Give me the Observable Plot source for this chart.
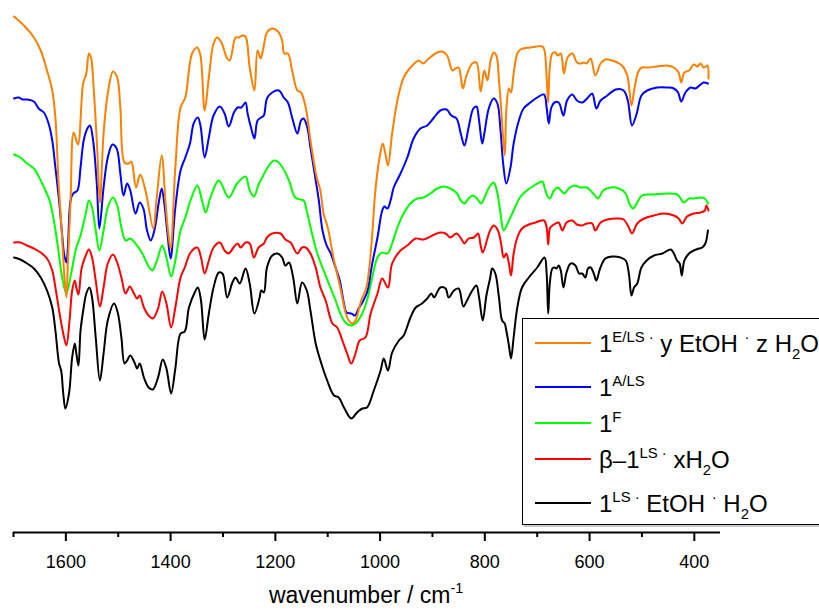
<!DOCTYPE html>
<html>
<head>
<meta charset="utf-8">
<script src="https://cdn.jsdelivr.net/npm/d3@7"></script>
<script src="https://cdn.jsdelivr.net/npm/@observablehq/plot@0.6"></script>
<style>
  html, body { margin: 0; padding: 0; background: #fff; }
  #chart { width: 819px; height: 610px; overflow: hidden; }
  #chart svg text { white-space: pre; }
</style>
</head>
<body>
<div id="chart"></div>
<script>
// FT-IR spectra: wavenumber (cm^-1) vs. transmittance (arbitrary units, stacked with offsets)

// 1^{E/LS} · y EtOH · z H2O
const spectrumELS = [[1699,516],[1680,507],[1661,495],[1648,482],[1636,462],[1626,442],[1620,415],[1614,350],[1608,302],[1603,257],[1599,235],[1596,272],[1591,332],[1585,400],[1577,388],[1567,449],[1561,459],[1556,479],[1552,475],[1547,445],[1540,382],[1535,330],[1528,399],[1520,439],[1510,461],[1502,455],[1496,425],[1488,370],[1480,369],[1475,371],[1466,345],[1458,358],[1448,342],[1433,304],[1427,332],[1417,377],[1410,332],[1405,302],[1400,284],[1391,365],[1381,425],[1372,435],[1359,479],[1349,485],[1343,477],[1335,422],[1327,455],[1318,489],[1311,495],[1303,490],[1292,474],[1287,472],[1276,495],[1270,495],[1263,497],[1257,496],[1249,465],[1240,442],[1234,482],[1228,474],[1223,484],[1216,500],[1206,504],[1195,501],[1187,492],[1183,479],[1176,479],[1168,462],[1158,442],[1151,440],[1142,425],[1133,392],[1121,355],[1114,342],[1108,319],[1100,305],[1088,272],[1076,245],[1066,220],[1060,212],[1053,209],[1047,212],[1042,220],[1036,232],[1026,245],[1017,285],[1009,342],[1002,372],[995,389],[990,379],[985,367],[977,399],[967,432],[955,455],[942,465],[926,472],[918,469],[907,474],[891,480],[881,481],[872,477],[862,462],[856,464],[850,465],[842,444],[835,457],[824,469],[816,470],[808,441],[801,462],[795,452],[789,472],[783,480],[778,477],[773,452],[769,425],[762,377],[759,422],[754,444],[750,440],[745,459],[738,479],[732,483],[713,485],[690,486],[686,482],[682,455],[679,430],[676,465],[671,479],[665,480],[661,477],[655,479],[649,459],[642,475],[633,479],[624,470],[617,469],[611,470],[606,469],[598,474],[589,457],[579,469],[570,473],[557,472],[547,470],[538,467],[528,457],[520,427],[514,445],[506,462],[500,465],[490,465],[471,466],[452,467],[439,465],[430,460],[425,450],[419,460],[410,462],[401,468],[394,466],[388,469],[382,465],[375,467],[373,454]];

// 1^{A/LS}
const spectrumALS = [[1699,434],[1690,435],[1683,433],[1674,433],[1661,431],[1652,424],[1642,420],[1633,409],[1626,392],[1620,365],[1613,332],[1607,297],[1603,277],[1599,270],[1596,287],[1591,332],[1586,339],[1578,342],[1572,365],[1566,392],[1559,404],[1554,407],[1548,392],[1541,349],[1536,304],[1528,345],[1520,375],[1511,388],[1503,384],[1496,359],[1490,337],[1483,349],[1477,342],[1467,319],[1459,330],[1452,324],[1445,302],[1438,292],[1431,302],[1422,332],[1417,344],[1412,329],[1406,299],[1400,274],[1391,325],[1381,362],[1372,375],[1363,389],[1356,409],[1348,415],[1343,407],[1335,375],[1327,395],[1318,417],[1306,426],[1297,419],[1289,406],[1279,420],[1272,425],[1265,425],[1257,430],[1253,419],[1246,404],[1240,394],[1234,412],[1227,415],[1222,417],[1216,434],[1206,440],[1193,442],[1184,435],[1176,430],[1168,415],[1158,399],[1151,412],[1146,414],[1139,405],[1133,385],[1125,359],[1117,332],[1110,302],[1102,287],[1095,280],[1085,265],[1077,252],[1069,229],[1064,220],[1055,219],[1048,217],[1041,224],[1034,230],[1025,240],[1015,269],[1005,295],[996,322],[992,326],[986,324],[980,332],[974,345],[961,359],[948,375],[936,394],[923,404],[910,407],[897,415],[885,422],[873,423],[864,417],[854,414],[846,399],[839,387],[831,405],[822,424],[816,426],[811,412],[805,389],[801,399],[792,425],[783,434],[776,429],[770,402],[765,369],[759,349],[751,365],[745,389],[735,412],[726,424],[713,430],[700,435],[687,438],[682,425],[678,409],[673,425],[667,430],[659,430],[650,417],[643,432],[633,438],[624,432],[614,430],[603,435],[595,439],[587,424],[579,432],[566,437],[550,443],[535,442],[527,432],[519,407],[510,419],[501,437],[490,442],[471,445],[452,445],[439,444],[431,440],[425,431],[417,440],[407,445],[398,444],[388,448],[382,450],[374,449]];

// 1^{F}
const spectrumF = [[1699,378],[1687,375],[1674,369],[1661,364],[1648,352],[1639,342],[1631,332],[1623,312],[1615,285],[1607,255],[1599,239],[1590,259],[1580,285],[1572,297],[1562,319],[1556,332],[1550,325],[1543,302],[1536,282],[1528,302],[1520,325],[1510,335],[1502,327],[1494,305],[1486,292],[1477,294],[1467,289],[1454,279],[1443,267],[1435,262],[1426,272],[1416,287],[1408,275],[1399,256],[1391,272],[1381,302],[1372,315],[1362,332],[1349,347],[1340,332],[1333,320],[1324,335],[1308,352],[1289,335],[1273,349],[1257,356],[1249,342],[1241,336],[1232,348],[1225,355],[1216,364],[1203,372],[1196,371],[1185,364],[1174,352],[1162,335],[1152,333],[1146,332],[1139,319],[1130,299],[1120,279],[1110,265],[1098,249],[1085,232],[1076,219],[1066,210],[1056,207],[1047,209],[1036,217],[1025,232],[1015,255],[1005,275],[996,280],[986,279],[977,289],[967,305],[955,319],[942,329],[929,334],[917,335],[904,339],[891,344],[878,346],[866,344],[853,339],[846,332],[839,329],[831,334],[823,337],[815,334],[807,329],[799,337],[792,345],[783,350],[776,339],[770,319],[764,302],[754,312],[745,322],[733,335],[722,341],[706,347],[690,351],[686,345],[681,337],[676,334],[668,342],[661,345],[648,339],[640,344],[629,347],[617,345],[605,345],[593,339],[584,334],[574,342],[560,345],[544,344],[531,339],[524,329],[517,324],[509,330],[500,337],[477,338],[452,339],[433,338],[426,334],[420,330],[410,334],[401,334],[388,335],[380,334],[374,329]];

// β-1^{LS} · x H2O
const spectrumBetaLS = [[1699,290],[1687,290],[1674,287],[1661,284],[1648,280],[1636,274],[1626,262],[1620,245],[1612,219],[1605,199],[1599,187],[1593,212],[1588,242],[1583,252],[1580,245],[1576,238],[1570,264],[1562,277],[1556,283],[1550,275],[1543,252],[1535,226],[1528,245],[1520,269],[1510,278],[1502,270],[1494,255],[1486,239],[1478,246],[1470,239],[1464,234],[1459,237],[1451,225],[1442,217],[1434,214],[1424,224],[1416,241],[1408,229],[1399,205],[1391,225],[1381,255],[1373,265],[1362,280],[1349,285],[1342,275],[1335,259],[1327,272],[1318,285],[1306,290],[1297,282],[1289,279],[1280,285],[1272,289],[1266,285],[1257,290],[1249,289],[1241,275],[1232,285],[1222,289],[1216,295],[1206,299],[1190,299],[1181,293],[1171,290],[1158,279],[1149,285],[1142,285],[1133,279],[1123,265],[1114,245],[1104,232],[1091,209],[1082,205],[1072,192],[1063,179],[1055,169],[1047,179],[1039,192],[1028,195],[1018,219],[1005,239],[996,254],[985,245],[977,269],[961,282],[948,287],[932,294],[917,293],[900,297],[885,300],[875,299],[866,295],[854,299],[843,292],[839,289],[831,294],[821,295],[813,299],[808,287],[804,280],[795,294],[790,302],[783,307],[775,302],[769,289],[764,275],[759,279],[754,269],[750,257],[745,279],[738,295],[729,304],[716,308],[703,310],[687,312],[682,305],[679,288],[675,305],[665,309],[659,310],[652,302],[644,310],[633,312],[624,308],[614,307],[605,309],[595,309],[589,302],[579,310],[566,313],[547,314],[535,313],[525,305],[519,299],[509,309],[496,314],[477,317],[458,319],[439,317],[430,314],[423,309],[414,316],[401,319],[388,320],[380,322],[377,327],[373,322]];

// 1^{LS} · EtOH · H2O
const spectrumLS = [[1699,275],[1687,273],[1674,269],[1661,264],[1648,255],[1636,242],[1626,225],[1620,202],[1613,169],[1609,162],[1605,139],[1601,124],[1594,139],[1588,175],[1583,189],[1580,179],[1576,167],[1572,202],[1566,225],[1561,239],[1555,245],[1550,235],[1543,195],[1535,152],[1528,179],[1520,212],[1508,229],[1501,220],[1494,195],[1488,169],[1483,172],[1477,177],[1469,170],[1464,164],[1459,169],[1451,155],[1442,145],[1434,143],[1424,155],[1415,173],[1408,164],[1399,139],[1391,164],[1381,199],[1373,201],[1365,225],[1354,240],[1348,245],[1342,232],[1335,193],[1327,219],[1318,245],[1308,260],[1301,259],[1292,235],[1282,250],[1276,255],[1268,249],[1257,264],[1249,249],[1240,219],[1230,235],[1227,242],[1222,240],[1216,265],[1206,277],[1196,279],[1187,275],[1181,267],[1174,270],[1166,255],[1158,229],[1149,250],[1140,242],[1133,222],[1123,189],[1114,172],[1101,152],[1088,137],[1079,135],[1069,125],[1055,114],[1044,120],[1034,124],[1025,125],[1012,142],[999,162],[993,174],[985,162],[977,180],[964,192],[955,197],[942,215],[932,225],[920,229],[910,234],[902,239],[897,235],[885,245],[875,244],[869,235],[859,242],[850,244],[841,226],[834,232],[824,242],[816,247],[811,235],[804,212],[797,237],[790,254],[786,264],[780,259],[773,235],[767,212],[762,209],[759,202],[754,187],[750,174],[745,195],[738,225],[729,245],[716,255],[700,265],[686,275],[682,259],[679,219],[676,249],[671,264],[667,265],[663,264],[659,267],[655,262],[650,245],[644,260],[636,269],[627,267],[620,259],[614,259],[608,255],[603,264],[598,265],[592,259],[587,252],[580,264],[570,274],[557,276],[541,275],[531,272],[525,259],[520,237],[515,245],[509,249],[501,265],[491,272],[477,277],[461,279],[445,283],[439,279],[433,272],[428,269],[424,257],[419,272],[410,279],[401,282],[391,284],[385,285],[379,289],[374,302]];

// Axis ticks (cm^-1)
const majorTicks = [1600, 1400, 1200, 1000, 800, 600, 400];
const minorTicks = [1700, 1500, 1300, 1100, 900, 700, 500];

// Legend entries: rich-text pieces (sup = superscript, sub = subscript)
const legendLabels = [
  [{t: "1"}, {t: "E/LS ·", sup: true}, {t: " y EtOH "}, {t: "·", sup: true}, {t: " z H"}, {t: "2", sub: true}, {t: "O"}],
  [{t: "1"}, {t: "A/LS", sup: true}],
  [{t: "1"}, {t: "F", sup: true}],
  [{t: "β–1"}, {t: "LS ·", sup: true}, {t: " xH"}, {t: "2", sub: true}, {t: "O"}],
  [{t: "1"}, {t: "LS ·", sup: true}, {t: " EtOH "}, {t: "·", sup: true}, {t: " H"}, {t: "2", sub: true}, {t: "O"}]
];
const seriesColors = ["#ff8000", "#0000ff", "#00ff00", "#ff0000", "#000000"];
const seriesData = [spectrumELS, spectrumALS, spectrumF, spectrumBetaLS, spectrumLS];

const fontFamily = "'Liberation Sans', Arial, Helvetica, sans-serif";

// Draw back-to-front so the top legend entry sits on top
const lineMarks = seriesData.map((data, i) => ({data, color: seriesColors[i]})).reverse()
  .map(({data, color}) => Plot.line(data, {
    x: d => d[0], y: d => d[1], stroke: color, strokeWidth: 2, curve: "catmull-rom"
  }));

const chart = Plot.plot({
  width: 819,
  height: 610,
  marginLeft: 13,
  marginRight: 99,
  marginTop: 0,
  marginBottom: 78,
  style: {fontFamily, fontSize: "18px", color: "#000", background: "#fff", overflow: "visible"},
  x: {domain: [1700, 350]},
  y: {domain: [0, 532], axis: null},
  marks: [
    ...lineMarks,
    Plot.ruleY([0], {stroke: "#000", strokeWidth: 2}),
    Plot.axisX(majorTicks, {tickSize: 9, tickPadding: 14, tickFormat: d => String(d), strokeWidth: 2, fontSize: 18, label: null}),
    Plot.axisX(minorTicks, {tickSize: 5, tickFormat: () => "", strokeWidth: 2, label: null})
  ]
});

document.getElementById("chart").appendChild(chart);

const svg = d3.select(chart);

function richText(parent, x, y, parts, size, anchor) {
  const t = parent.append("text")
    .attr("x", x).attr("y", y)
    .attr("font-family", fontFamily)
    .attr("font-size", size)
    .attr("fill", "#000")
    .attr("text-anchor", anchor || "start");
  let shift = 0;
  for (const p of parts) {
    const target = p.sup ? -0.42 * size : p.sub ? 0.3 * size : 0;
    const ts = t.append("tspan").text(p.t).attr("dy", target - shift);
    if (p.sup || p.sub) ts.attr("font-size", size * 0.62);
    shift = target;
  }
  return t;
}

// Axis title
richText(svg, 366, 603, [{t: "wavenumber / cm"}, {t: "-1", sup: true}], 23, "middle");

// Legend box
const legend = svg.append("g");
legend.append("rect").attr("x", 524).attr("y", 320).attr("width", 310).attr("height", 207).attr("fill", "#c8c8c8");
legend.append("rect").attr("x", 522.5).attr("y", 318.5).attr("width", 310).attr("height", 206)
  .attr("fill", "#fff").attr("stroke", "#000").attr("stroke-width", 1);

const rowY = [343, 387, 423, 459, 503];
legendLabels.forEach((parts, i) => {
  legend.append("line")
    .attr("x1", 535).attr("x2", 591).attr("y1", rowY[i]).attr("y2", rowY[i])
    .attr("stroke", seriesColors[i]).attr("stroke-width", 2);
  richText(legend, 599, rowY[i] + 9, parts, 24);
});
</script>
</body>
</html>
